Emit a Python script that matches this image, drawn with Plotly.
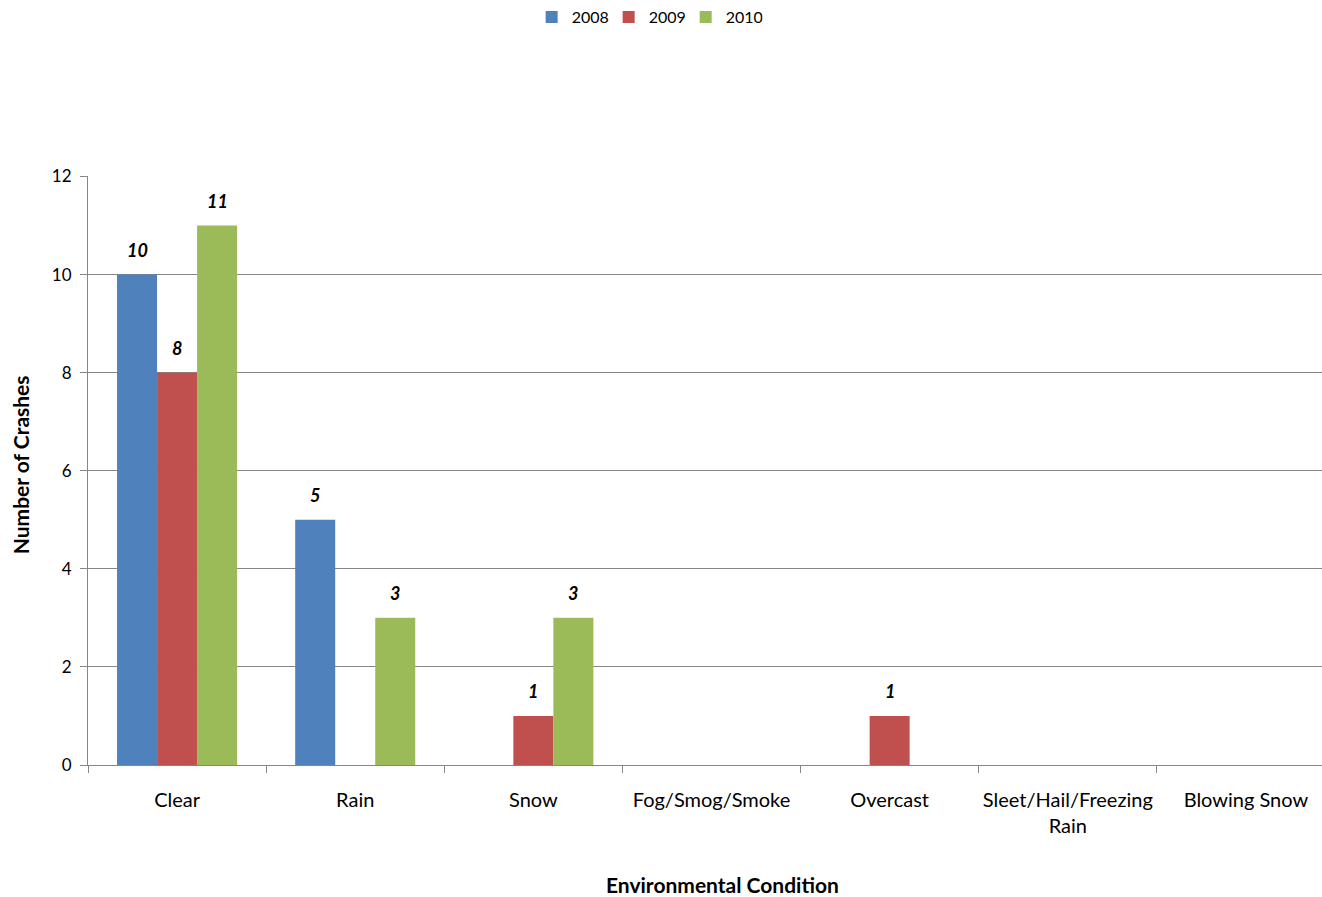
import plotly.graph_objects as go

categories = ["Clear", "Rain", "Snow", "Fog/Smog/Smoke", "Overcast",
              "Sleet/Hail/Freezing<br>Rain", "Blowing Snow"]
years = ["2008", "2009", "2010"]
v2008 = [10, 5, 0, 0, 0, 0, 0]
v2009 = [8, 0, 1, 0, 1, 0, 0]
v2010 = [11, 3, 3, 0, 0, 0, 0]
colors = ["#4F81BD", "#C0504D", "#9BBB59"]

FONT = "Lato, 'Open Sans', sans-serif"
BARGAP = 0.326

fig = go.Figure()
series = [v2008, v2009, v2010]
for name, vals, col in zip(years, series, colors):
    fig.add_trace(go.Bar(
        x=categories, y=[v if v else None for v in vals], name=name,
        marker=dict(color=col, line=dict(width=0)),
    ))

# data labels, positioned via the category axis and group offsets
nser = len(series)
bw = (1 - BARGAP) / nser
for j, vals in enumerate(series):
    for i, v in enumerate(vals):
        if v:
            fig.add_annotation(
                x=i + (j - (nser - 1) / 2) * bw, y=v, xref="x", yref="y",
                text=str(v), showarrow=False, yshift=25, yanchor="middle",
                font=dict(family=FONT, size=18, color="black", weight="bold", style="italic"),
            )

fig.update_layout(
    width=1336, height=897,
    margin=dict(l=88, r=1, t=176, b=132),
    plot_bgcolor="white", paper_bgcolor="white",
    barmode="group", bargap=BARGAP, bargroupgap=0,
    font=dict(family=FONT, size=16, color="black"),
    showlegend=True,
    legend=dict(orientation="h", x=0.4844, xanchor="center", xref="container",
                y=1.0, yanchor="top", yref="container",
                font=dict(size=16), itemwidth=30, traceorder="normal",
                entrywidth=32, entrywidthmode="pixels"),
)
fig.update_xaxes(
    type="category", tickson="boundaries", ticks="outside", ticklen=7,
    tickcolor="#868686", showline=True, linecolor="#868686", linewidth=1,
    showgrid=False, tickfont=dict(size=20), ticklabelstandoff=17,
    tickangle=0,
)
fig.update_yaxes(
    range=[0, 12.01], tickvals=[0, 2, 4, 6, 8, 10, 12], ticks="outside", ticklen=7,
    tickcolor="#868686", showline=True, linecolor="#868686", linewidth=1,
    showgrid=True, gridcolor="#868686", gridwidth=1, zeroline=False,
    tickfont=dict(size=17), ticklabelstandoff=5,
)
fig.add_annotation(text="<b>Number of Crashes</b>", textangle=-90,
                   xref="paper", yref="paper", x=-0.0545, y=0.509,
                   xanchor="center", yanchor="middle",
                   font=dict(size=21), showarrow=False)
fig.add_annotation(text="<b>Environmental Condition</b>",
                   xref="paper", yref="paper", x=0.509, y=-0.2037,
                   xanchor="center", yanchor="middle",
                   font=dict(size=21), showarrow=False)

fig.write_html("out.html", config={"displayModeBar": False},
               post_script="document.body.style.margin='0';document.body.style.overflow='hidden';")
